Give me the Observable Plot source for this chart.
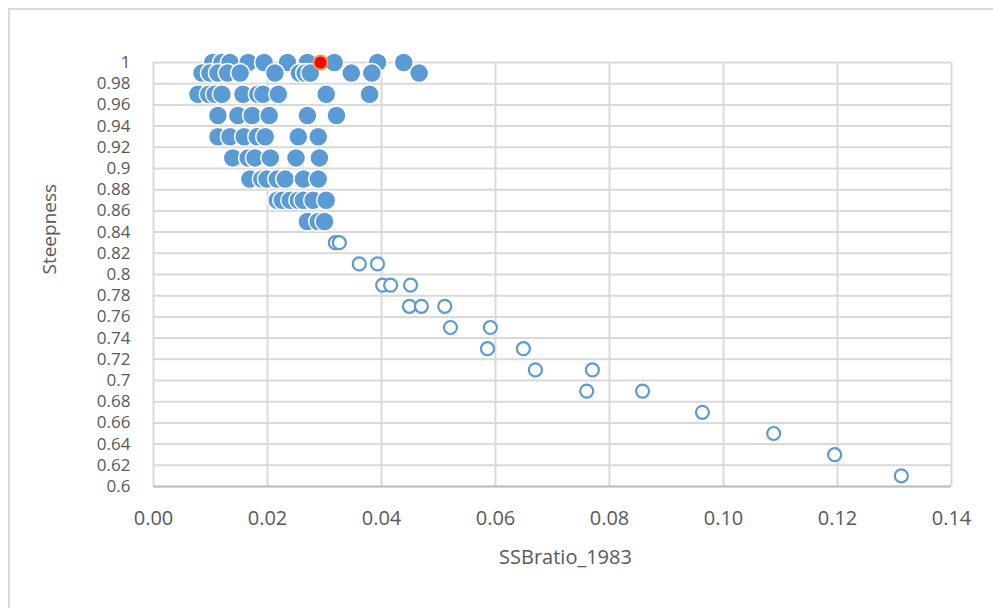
<!DOCTYPE html>
<html>
<head>
<meta charset="utf-8">
<script src="https://cdn.jsdelivr.net/npm/d3@7"></script>
<script src="https://cdn.jsdelivr.net/npm/@observablehq/plot@0.6"></script>
<style>
html, body { margin: 0; padding: 0; background: #fff; overflow: hidden; }
#frame { position: absolute; left: 8px; top: 8px; width: 1200px; height: 1000px;
  border-top: 2px solid #D9D9D9; border-left: 2px solid #D9D9D9; }
#chart { position: absolute; left: 0; top: 0; }
</style>
</head>
<body>
<div id="frame"></div>
<div id="chart"></div>
<script>
// Filled points (steepness >= 0.85), one SSB list per steepness row
const filledRows = [1.00, 0.99, 0.97, 0.95, 0.93, 0.91, 0.89, 0.87, 0.85];
const filledSSB = [
  [0.0104, 0.0120, 0.0134, 0.0166, 0.0194, 0.0235, 0.0270, 0.0317, 0.0393, 0.0439],
  [0.0085, 0.0099, 0.0113, 0.0130, 0.0152, 0.0213, 0.0256, 0.0266, 0.0275, 0.0347, 0.0383, 0.0466],
  [0.0078, 0.0097, 0.0108, 0.0120, 0.0157, 0.0183, 0.0192, 0.0219, 0.0303, 0.0379],
  [0.0113, 0.0148, 0.0173, 0.0203, 0.0270, 0.0321],
  [0.0113, 0.0134, 0.0159, 0.0182, 0.0196, 0.0254, 0.0289],
  [0.0139, 0.0166, 0.0178, 0.0205, 0.0250, 0.0291],
  [0.0169, 0.0190, 0.0199, 0.0217, 0.0231, 0.0263, 0.0289],
  [0.0217, 0.0226, 0.0240, 0.0254, 0.0263, 0.0280, 0.0303],
  [0.0270, 0.0289, 0.0300]
];
// Hollow points (steepness < 0.85)
const hollowSteepness = [0.83, 0.83, 0.81, 0.81, 0.79, 0.79, 0.79, 0.77, 0.77, 0.77,
  0.75, 0.75, 0.73, 0.73, 0.71, 0.71, 0.69, 0.69, 0.67, 0.65, 0.63, 0.61];
const hollowSSB = [0.0319, 0.0326, 0.0361, 0.0393, 0.0402, 0.0416, 0.0451, 0.0449, 0.0470, 0.0511,
  0.0521, 0.0591, 0.0586, 0.0649, 0.0670, 0.0770, 0.0760, 0.0858, 0.0963, 0.1088, 0.1195, 0.1312];
// Highlighted point
const highlightSSB = [0.0293];
const highlightSteepness = [1.00];

const xTicks = [0, 0.02, 0.04, 0.06, 0.08, 0.10, 0.12, 0.14];
const yTicks = [0.6, 0.62, 0.64, 0.66, 0.68, 0.7, 0.72, 0.74, 0.76, 0.78, 0.8,
  0.82, 0.84, 0.86, 0.88, 0.9, 0.92, 0.94, 0.96, 0.98, 1];

const filled = filledRows.flatMap((s, i) => filledSSB[i].map(x => ({x, y: s})));
const hollow = hollowSSB.map((x, i) => ({x, y: hollowSteepness[i]}));
const highlight = highlightSSB.map((x, i) => ({x, y: highlightSteepness[i]}));

const blue = "#5B9BD5";
const chart = Plot.plot({
  width: 993,
  height: 608,
  marginLeft: 153,
  marginRight: 42,
  marginTop: 62,
  marginBottom: 122,
  style: {fontFamily: "'Open Sans', sans-serif", fontSize: "20px", color: "#595959", background: "transparent", overflow: "visible"},
  x: {domain: [0, 0.14]},
  y: {domain: [0.6, 1]},
  marks: [
    Plot.gridX(xTicks, {stroke: "#D9D9D9", strokeOpacity: 1, strokeWidth: 2}),
    Plot.gridY(yTicks, {stroke: "#D9D9D9", strokeOpacity: 1, strokeWidth: 2}),
    Plot.ruleY([0.6], {stroke: "#BFBFBF", strokeWidth: 2}),
    Plot.axisX(xTicks, {tickSize: 0, tickPadding: 24, tickFormat: d => d.toFixed(2), label: null, fontSize: 20}),
    Plot.axisY(yTicks, {tickSize: 0, tickPadding: 23, tickFormat: d => String(+d.toFixed(2)), label: null, fontSize: 17}),
    Plot.dot(hollow, {x: "x", y: "y", r: 6.5, fill: "white", stroke: blue, strokeWidth: 2.2}),
    Plot.dot(filled, {x: "x", y: "y", r: 9.5, fill: blue, stroke: "white", strokeWidth: 1.5}),
    Plot.dot(highlight, {x: "x", y: "y", r: 7, fill: "#FF0000", stroke: "#FF9A40", strokeWidth: 2}),
    Plot.text(["Steepness"], {text: d => d, frameAnchor: "left", rotate: -90, dx: -104, lineAnchor: "middle", fontSize: 19, fill: "#595959"}),
    Plot.text(["SSBratio_1983"], {text: d => d, frameAnchor: "bottom", lineAnchor: "middle", dx: 13, dy: 71, fontSize: 20, fill: "#595959"})
  ]
});
document.getElementById("chart").appendChild(chart);
</script>
</body>
</html>
